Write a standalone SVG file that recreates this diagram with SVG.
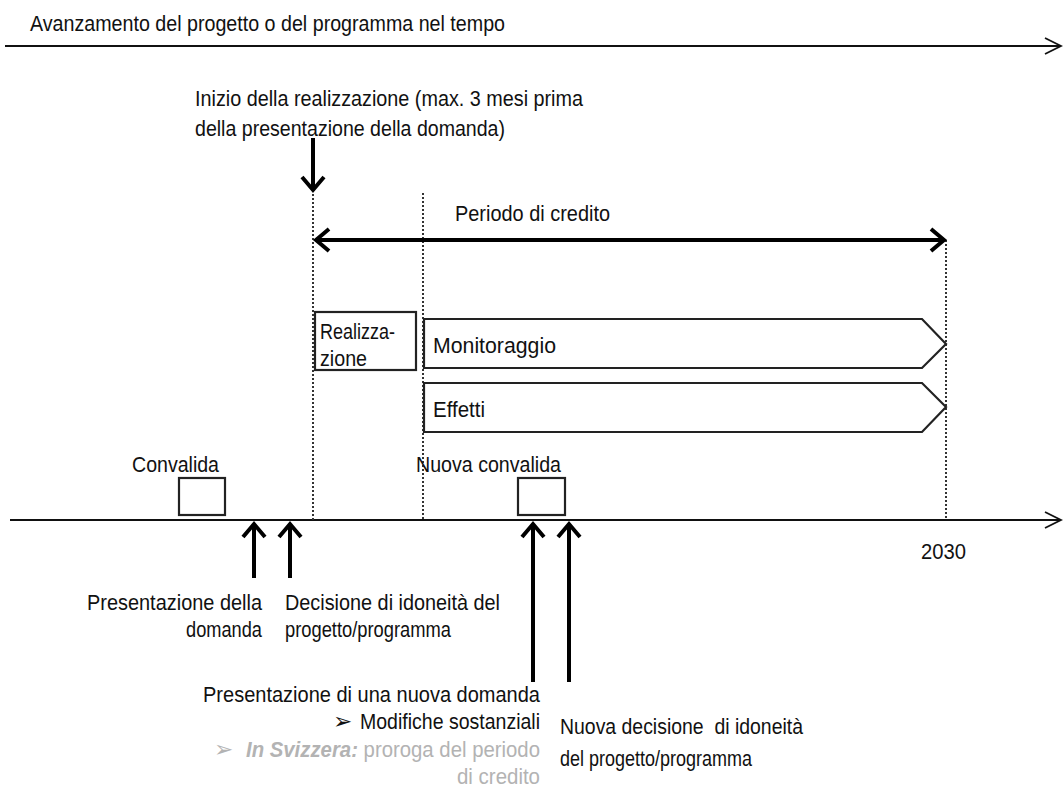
<svg xmlns="http://www.w3.org/2000/svg" width="1063" height="793" viewBox="0 0 1063 793">
  <style>
    text { font-family: "Liberation Sans", Arial, sans-serif; font-size: 22px; fill: #111; }
    .grey { fill: #b3b3b3; }
    .bullet { font-family: "DejaVu Sans", sans-serif; font-size: 23px; }
    .axis { stroke: #111; stroke-width: 2; fill: none; }
    .dot { stroke: #333; stroke-width: 2; stroke-dasharray: 2 2; fill: none; }
    .thick { stroke: #000; stroke-width: 4; fill: none; }
    .box { stroke: #222; stroke-width: 2.2; fill: #fff; }
  </style>
  <defs>
    <marker id="open" viewBox="-16 -16 32 32" markerWidth="32" markerHeight="32" markerUnits="userSpaceOnUse" refX="0" refY="0" orient="auto-start-reverse">
      <path d="M-13,-11 L0,0 L-13,11" fill="none" stroke="#000" stroke-width="4"/>
    </marker>
    <marker id="thin" viewBox="-20 -16 40 32" markerWidth="40" markerHeight="32" markerUnits="userSpaceOnUse" refX="0" refY="0" orient="auto">
      <path d="M-16,-8 L0,0 L-16,8" fill="none" stroke="#111" stroke-width="1.8"/>
    </marker>
  </defs>
  <rect width="1063" height="793" fill="#fff"/>

  <!-- time axes -->
  <g id="axes">
    <text x="30" y="31" textLength="475" lengthAdjust="spacingAndGlyphs">Avanzamento del progetto o del programma nel tempo</text>
    <line class="axis" x1="5" y1="46" x2="1061" y2="46" marker-end="url(#thin)"/>
    <line class="axis" x1="10" y1="520" x2="1061" y2="520" marker-end="url(#thin)"/>
    <text x="921" y="559" textLength="45" lengthAdjust="spacingAndGlyphs">2030</text>
  </g>

  <!-- period boundaries -->
  <g id="guides">
    <line class="dot" x1="313" y1="194" x2="313" y2="520"/>
    <line class="dot" x1="423" y1="193" x2="423" y2="520"/>
    <line class="dot" x1="946" y1="240" x2="946" y2="520"/>
  </g>

  <g id="start">
    <text x="195" y="106" textLength="388" lengthAdjust="spacingAndGlyphs">Inizio della realizzazione (max. 3 mesi prima</text>
    <text x="195" y="136" textLength="310" lengthAdjust="spacingAndGlyphs">della presentazione della domanda)</text>
  </g>

  <g id="credit-period">
    <text x="455" y="221" textLength="155" lengthAdjust="spacingAndGlyphs">Periodo di credito</text>
  </g>

  <g id="realizzazione">
    <rect class="box" x="315" y="312" width="101" height="58"/>
    <text x="320" y="339" textLength="75" lengthAdjust="spacingAndGlyphs">Realizza-</text>
    <text x="320" y="366" textLength="47" lengthAdjust="spacingAndGlyphs">zione</text>
  </g>

  <g id="monitoraggio">
    <path class="box" d="M424,319 L922,319 L946,344 L922,368 L424,368 Z"/>
    <text x="433" y="353" textLength="123" lengthAdjust="spacingAndGlyphs">Monitoraggio</text>
  </g>

  <g id="effetti">
    <path class="box" d="M424,383 L922,383 L946,407 L922,432 L424,432 Z"/>
    <text x="433" y="417" textLength="52" lengthAdjust="spacingAndGlyphs">Effetti</text>
  </g>

  <g id="convalida">
    <text x="132" y="472" textLength="87" lengthAdjust="spacingAndGlyphs">Convalida</text>
    <rect class="box" x="179" y="478" width="46" height="37"/>
  </g>

  <g id="nuova-convalida">
    <text x="416" y="472" textLength="145" lengthAdjust="spacingAndGlyphs">Nuova convalida</text>
    <rect class="box" x="518" y="478" width="47" height="37"/>
  </g>

  <g id="presentazione">
    <text x="262" y="610" text-anchor="end" textLength="175" lengthAdjust="spacingAndGlyphs">Presentazione della</text>
    <text x="262" y="637" text-anchor="end" textLength="76" lengthAdjust="spacingAndGlyphs">domanda</text>
  </g>

  <g id="decisione">
    <text x="285" y="610" textLength="215" lengthAdjust="spacingAndGlyphs">Decisione di idoneità del</text>
    <text x="285" y="637" textLength="166" lengthAdjust="spacingAndGlyphs">progetto/programma</text>
  </g>

  <g id="nuova-domanda">
    <text x="540" y="702" text-anchor="end" textLength="337" lengthAdjust="spacingAndGlyphs">Presentazione di una nuova domanda</text>
    <text class="bullet" x="333" y="729">➢</text>
    <text x="540" y="729" text-anchor="end" textLength="180" lengthAdjust="spacingAndGlyphs">Modifiche sostanziali</text>
    <text class="grey bullet" x="214" y="757">➢</text>
    <text class="grey" x="540" y="757" text-anchor="end" textLength="294" lengthAdjust="spacingAndGlyphs"><tspan font-weight="bold" font-style="italic">In Svizzera:</tspan> proroga del periodo</text>
    <text class="grey" x="540" y="784" text-anchor="end" textLength="83" lengthAdjust="spacingAndGlyphs">di credito</text>
  </g>

  <g id="nuova-decisione">
    <text x="560" y="734" textLength="243" lengthAdjust="spacingAndGlyphs" xml:space="preserve">Nuova decisione  di idoneità</text>
    <text x="560" y="766" textLength="192" lengthAdjust="spacingAndGlyphs">del progetto/programma</text>
  </g>

  <!-- connectors -->
  <g id="connectors">
    <line class="thick" x1="313" y1="138" x2="313" y2="190" marker-end="url(#open)"/>
    <line class="thick" x1="316" y1="240" x2="944" y2="240" marker-start="url(#open)" marker-end="url(#open)"/>
    <line class="thick" x1="254" y1="578" x2="254" y2="524" marker-end="url(#open)"/>
    <line class="thick" x1="290" y1="578" x2="290" y2="524" marker-end="url(#open)"/>
    <line class="thick" x1="533" y1="682" x2="533" y2="524" marker-end="url(#open)"/>
    <line class="thick" x1="569" y1="682" x2="569" y2="524" marker-end="url(#open)"/>
  </g>
</svg>
